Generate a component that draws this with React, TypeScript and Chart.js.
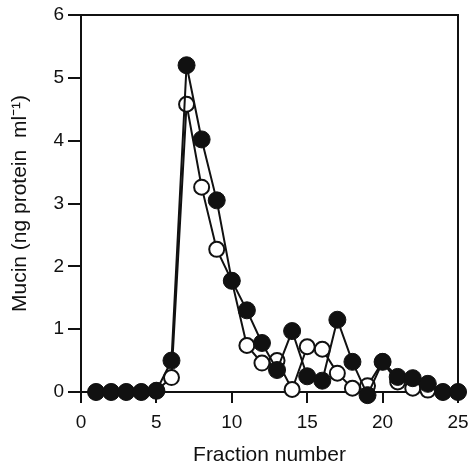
import React, { useEffect, useRef } from "react";
import { Chart, registerables } from "chart.js";

Chart.register(...registerables);

const fractions = [1, 2, 3, 4, 5, 6, 7, 8, 9, 10, 11, 12, 13, 14, 15, 16, 17, 18, 19, 20, 21, 22, 23, 24, 25];
const filledValues = [0, 0, 0, 0, 0.02, 0.5, 5.2, 4.02, 3.05, 1.77, 1.3, 0.78, 0.35, 0.97, 0.25, 0.18, 1.15, 0.48, -0.05, 0.48, 0.24, 0.22, 0.13, 0, 0];
const openValues = [0, 0, 0, 0, 0.02, 0.23, 4.58, 3.26, 2.27, 1.77, 0.74, 0.46, 0.5, 0.04, 0.72, 0.68, 0.3, 0.06, 0.1, 0.48, 0.16, 0.06, 0.03, 0, 0];
const xTicks = [0, 5, 10, 15, 20, 25];
const yTicks = [0, 1, 2, 3, 4, 5, 6];

const FONT = "'Liberation Sans', Arial, sans-serif";

const boxPlugin = {
  id: "box",
  afterDraw(chart: any) {
    const { ctx, chartArea } = chart;
    ctx.save();
    ctx.strokeStyle = "#111";
    ctx.lineWidth = 2;
    ctx.beginPath();
    ctx.moveTo(chartArea.left, chartArea.top);
    ctx.lineTo(chartArea.right, chartArea.top);
    ctx.lineTo(chartArea.right, chartArea.bottom);
    ctx.stroke();
    ctx.restore();
  },
};

export default function App() {
  const ref = useRef<HTMLCanvasElement>(null);
  useEffect(() => {
    document.body.style.margin = "0";
    const chart = new Chart(ref.current!, {
      type: "line",
      data: {
        datasets: [
          {
            label: "filled",
            data: fractions.map((f, i) => ({ x: f, y: filledValues[i] })),
            borderColor: "#111",
            backgroundColor: "#111",
            pointBackgroundColor: "#111",
            pointBorderColor: "#111",
            borderWidth: 2,
            pointRadius: 8.5,
            pointBorderWidth: 1,
            clip: false as any,
          },
          {
            label: "open",
            data: fractions.map((f, i) => ({ x: f, y: openValues[i] })),
            borderColor: "#111",
            backgroundColor: "#fff",
            pointBackgroundColor: "#fff",
            pointBorderColor: "#111",
            borderWidth: 2,
            pointRadius: 7.5,
            pointBorderWidth: 2,
            clip: false as any,
          },
        ],
      },
      options: {
        animation: false,
        responsive: false,
        layout: { padding: { top: 15, right: 11, left: 0, bottom: 0 } },
        plugins: { legend: { display: false }, tooltip: { enabled: false } },
        scales: {
          x: {
            type: "linear",
            min: 0,
            max: 25,
            afterFit: (s: any) => { s.height = 74; s.paddingLeft = 0; s.paddingRight = 0; },
            afterBuildTicks: (s: any) => { s.ticks = xTicks.map((v) => ({ value: v })); },
            border: { color: "#111", width: 2 },
            grid: { drawOnChartArea: false, drawTicks: true, tickLength: 11, color: "#111", lineWidth: 2 },
            ticks: { color: "#111", font: { family: FONT, size: 19 }, padding: 8, maxRotation: 0 },
            title: { display: true, text: "Fraction number", color: "#111", font: { family: FONT, size: 21, lineHeight: 1 }, padding: { top: 0, bottom: 0 } },
          },
          y: {
            type: "linear",
            min: 0,
            max: 6,
            afterFit: (s: any) => { s.width = 81; s.paddingTop = 0; s.paddingBottom = 0; },
            afterBuildTicks: (s: any) => { s.ticks = yTicks.map((v) => ({ value: v })); },
            border: { color: "#111", width: 2 },
            grid: { drawOnChartArea: false, drawTicks: true, tickLength: 13, color: "#111", lineWidth: 2 },
            ticks: { color: "#111", font: { family: FONT, size: 19 }, padding: 4 },
            title: { display: true, text: "Mucin (ng protein  ml⁻¹)", color: "#111", font: { family: FONT, size: 21, lineHeight: 1 }, padding: { top: 10, bottom: 0 } },
          },
        },
      },
      plugins: [boxPlugin],
    });
    return () => chart.destroy();
  }, []);
  return <canvas ref={ref} width={469} height={466} style={{ display: "block" }} />;
}
